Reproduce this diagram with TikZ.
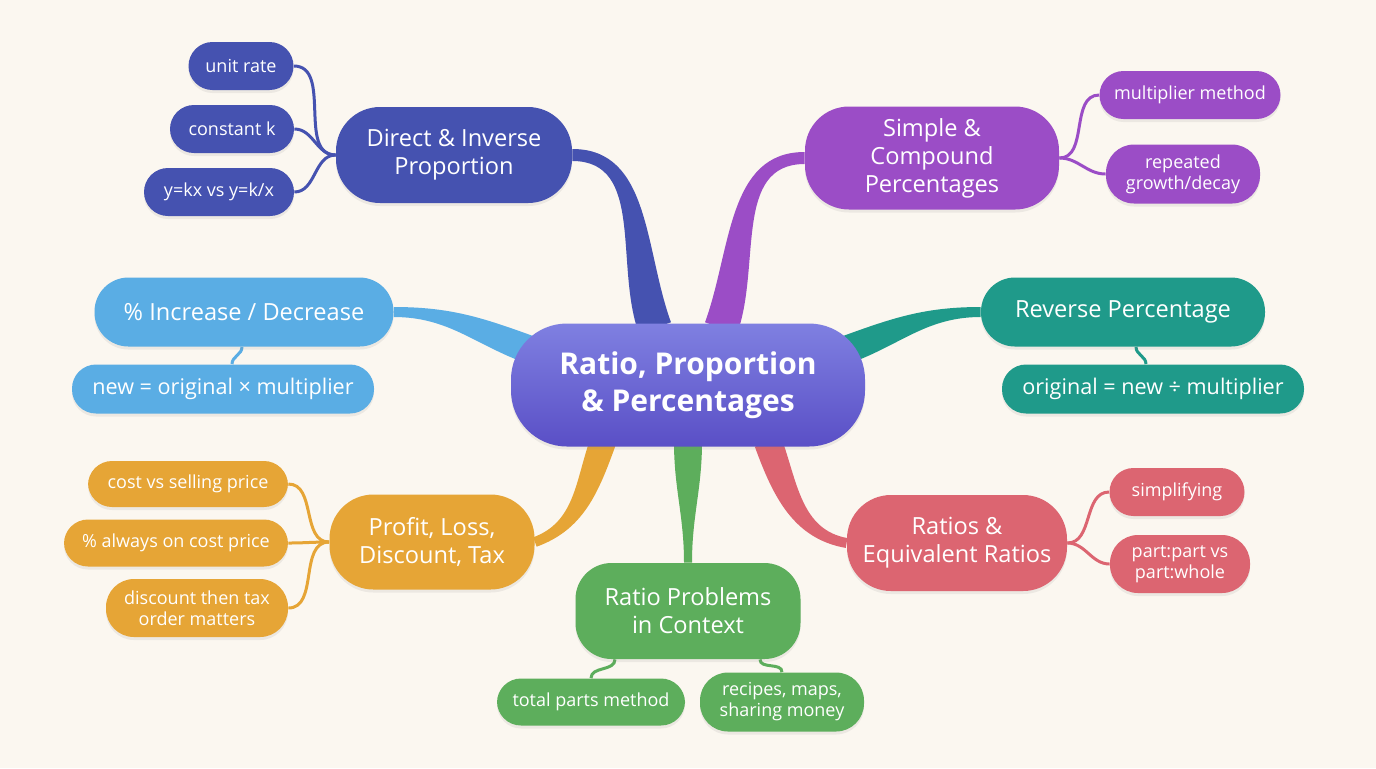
\documentclass[tikz,border=0pt]{standalone}
\usepackage{fontspec}
\setmainfont{Open Sans}
\usepackage{tikz}
\usetikzlibrary{calc, shadows}

\definecolor{cream}{HTML}{FBF7F0}
\definecolor{coretop}{HTML}{7F80E1}
\definecolor{corebot}{HTML}{5A4FC6}
\definecolor{dipblue}{HTML}{4552B0}
\definecolor{scpurple}{HTML}{9B4DC6}
\definecolor{pidsky}{HTML}{5AADE4}
\definecolor{rvteal}{HTML}{1F9A8A}
\definecolor{plorange}{HTML}{E6A536}
\definecolor{rpgreen}{HTML}{5DAE5C}
\definecolor{rered}{HTML}{DC6571}

\pgfdeclarelayer{back}
\pgfsetlayers{back,main}

% tapered branch: colour, from, to, out, in, half width at from, half width at to
\newcommand{\ribbon}[7]{%
  \pgfmathsetmacro{\ra}{#4+90}\pgfmathsetmacro{\rb}{#5-90}%
  \fill[#1] ($(#2)+(\ra:#6)$) to[out=#4,in=#5] ($(#3)+(\rb:#7)$)
    -- ($(#3)-(\rb:#7)$) to[out=#5,in=#4] ($(#2)-(\ra:#6)$) -- cycle;}

\begin{document}
\begin{tikzpicture}[x=0.5pt, y=0.5pt,
    soft/.style={drop shadow={opacity=0.12, shadow xshift=0pt, shadow yshift=-1.5pt}},
    centre/.style={top color=coretop, bottom color=corebot, text=white, rounded corners=28pt,
      inner sep=0pt, align=center, font=\bfseries\fontsize{15}{18.5}\selectfont, soft},
    topic/.style={fill=#1, text=white, rounded corners=22pt, inner sep=0pt, align=center,
      font=\fontsize{11.8}{14}\selectfont, soft},
    leaf/.style={fill=#1, text=white, rounded corners=12pt, inner sep=0pt, align=center,
      font=\fontsize{9}{10.5}\selectfont, soft},
    rule/.style={font=\fontsize{10.8}{13}\selectfont},
    twig/.style={draw=#1, line width=1.5pt}]

    \useasboundingbox (0,0) rectangle (1376,-768);

    \node[centre, minimum width=177pt, minimum height=61.5pt] (root) at (688,-385) {Ratio, Proportion\\\& Percentages};

    % main topics
    \node[topic=dipblue, minimum width=118pt, minimum height=48pt] (dip) at (454,-155) {Direct \& Inverse\\Proportion};
    \node[topic=scpurple, minimum width=127pt, minimum height=51.5pt] (scp) at (932,-158) {Simple \&\\Compound\\Percentages};
    \node[topic=pidsky, rounded corners=17pt, minimum width=149.5pt, minimum height=34.5pt] (pid) at (244,-312) {\% Increase / Decrease};
    \node[topic=rvteal, rounded corners=17pt, minimum width=142pt, minimum height=34.5pt] (rvp) at (1123,-312) {Reverse Percentage};
    \node[topic=plorange, minimum width=102.5pt, minimum height=47.5pt] (pld) at (432,-542) {Profit, Loss,\\Discount, Tax};
    \node[topic=rpgreen, rounded corners=18pt, minimum width=112.5pt, minimum height=48pt] (rpc) at (688,-611) {Ratio Problems\\in Context};
    \node[topic=rered, minimum width=110pt, minimum height=48pt] (rer) at (957,-543) {Ratios \&\\Equivalent Ratios};

    % leaves
    \node[leaf=dipblue, minimum width=52.5pt, minimum height=24pt] (urt) at (241,-66) {unit rate};
    \node[leaf=dipblue, minimum width=62pt, minimum height=24pt] (ck) at (232,-129) {constant k};
    \node[leaf=dipblue, minimum width=75pt, minimum height=24pt] (ykx) at (219,-192) {y=kx vs y=k/x};
    \node[leaf=scpurple, minimum width=90.5pt, minimum height=24pt] (mlm) at (1190,-95) {multiplier method};
    \node[leaf=scpurple, rounded corners=14pt, minimum width=77pt, minimum height=29.5pt] (rgd) at (1183,-174) {repeated\\growth/decay};
    \node[leaf=pidsky, rule, minimum width=151pt, minimum height=24.5pt] (nom) at (223,-389) {new = original × multiplier};
    \node[leaf=rvteal, rule, minimum width=151pt, minimum height=24.5pt] (onm) at (1153,-389) {original = new ÷ multiplier};
    \node[leaf=plorange, minimum width=100pt, minimum height=23pt] (cvs) at (188,-484) {cost vs selling price};
    \node[leaf=plorange, minimum width=112pt, minimum height=23.5pt] (acp) at (176,-543) {\% always on cost price};
    \node[leaf=plorange, rounded corners=14pt, minimum width=91pt, minimum height=29pt] (dtt) at (197,-608) {discount then tax\\order matters};
    \node[leaf=rpgreen, minimum width=94pt, minimum height=23.5pt] (tpm) at (591,-702) {total parts method};
    \node[leaf=rpgreen, rounded corners=14pt, minimum width=82pt, minimum height=29.5pt] (rms) at (782,-702) {recipes, maps,\\sharing money};
    \node[leaf=rered, minimum width=67.5pt, minimum height=24pt] (smp) at (1177,-492) {simplifying};
    \node[leaf=rered, rounded corners=14pt, minimum width=70pt, minimum height=29pt] (ppw) at (1180,-564) {part:part vs\\part:whole};

    \coordinate (dipin) at ($(root.north)+(-33,-5)$);
    \coordinate (scpin) at ($(root.north)+(33,-5)$);
    \coordinate (pidin) at ($(root.west)+(20,35)$);
    \coordinate (rvpin) at ($(root.east)+(-20,35)$);
    \coordinate (pldin) at ($(root.south)+(-85,5)$);
    \coordinate (rpcin) at ($(root.south)+(0,5)$);
    \coordinate (rerin) at ($(root.south)+(80,5)$);

    \begin{pgfonlayer}{back}
    \fill[cream] (0,0) rectangle (1376,-768);

    \ribbon{dipblue}{dip.east}{dipin}{0}{110}{6}{17}
    \ribbon{scpurple}{scp.west}{scpin}{180}{70}{6}{17}
    \ribbon{pidsky}{pid.east}{pidin}{0}{160}{5}{14}
    \ribbon{rvteal}{rvp.west}{rvpin}{180}{20}{5}{14}
    \ribbon{plorange}{pld.east}{pldin}{20}{250}{5}{13}
    \ribbon{rpgreen}{rpc.north}{rpcin}{90}{270}{4}{14}
    \ribbon{rered}{rer.west}{rerin}{170}{290}{5}{14}

    \draw[twig=dipblue] (dip.west) to[out=180,in=0] (urt.east);
    \draw[twig=dipblue] (dip.west) to[out=180,in=0] (ck.east);
    \draw[twig=dipblue] (dip.west) to[out=180,in=0] (ykx.east);
    \draw[twig=scpurple] (scp.east) to[out=0,in=180] (mlm.west);
    \draw[twig=scpurple] (scp.east) to[out=0,in=180] (rgd.west);
    \draw[twig=pidsky] ($(pid.south)+(-2,0)$) to[out=-90,in=90] ($(nom.north)+(9,0)$);
    \draw[twig=rvteal] ($(rvp.south)+(13,0)$) to[out=-90,in=90] ($(onm.north)+(-7,0)$);
    \draw[twig=plorange] (pld.west) to[out=180,in=0] (cvs.east);
    \draw[twig=plorange] (pld.west) to[out=180,in=0] (acp.east);
    \draw[twig=plorange] (pld.west) to[out=180,in=0] (dtt.east);
    \draw[twig=rpgreen] ($(rpc.south)+(-73,0)$) to[out=-90,in=90] (tpm.north);
    \draw[twig=rpgreen] ($(rpc.south)+(72,0)$) to[out=-90,in=90] (rms.north);
    \draw[twig=rered] (rer.east) to[out=0,in=180] (smp.west);
    \draw[twig=rered] (rer.east) to[out=0,in=180] (ppw.west);
    \end{pgfonlayer}
\end{tikzpicture}
\end{document}
